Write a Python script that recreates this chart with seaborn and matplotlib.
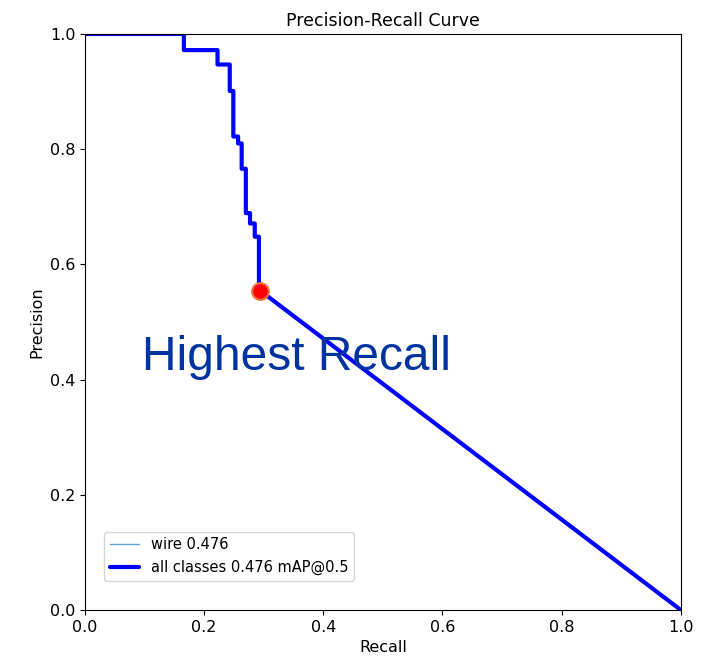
import seaborn as sns
import matplotlib.pyplot as plt
import pandas as pd

# PR curve vertices
recall = [0.0, 0.166, 0.166, 0.2225, 0.2225, 0.243, 0.243, 0.249, 0.249, 0.257, 0.257,
          0.263, 0.263, 0.270, 0.270, 0.277, 0.277, 0.285, 0.285, 0.292, 0.292, 1.0]
precision = [1.0, 1.0, 0.972, 0.972, 0.947, 0.947, 0.901, 0.901, 0.822, 0.822, 0.810,
             0.810, 0.766, 0.766, 0.689, 0.689, 0.671, 0.671, 0.648, 0.648, 0.556, 0.0]
best_recall = 0.293
best_precision = 0.554

df = pd.DataFrame({'Recall': recall, 'Precision': precision})

sns.set_style('ticks', {'text.color': 'black', 'axes.labelcolor': 'black',
                        'xtick.color': 'black', 'ytick.color': 'black',
                        'axes.edgecolor': 'black'})
plt.rcParams['font.family'] = ['DejaVu Sans']

fig = plt.figure(figsize=(7.04, 6.61), dpi=100)
ax = fig.add_axes([0.1207, 0.0772, 0.8463, 0.8714])

sns.lineplot(data=df, x='Recall', y='Precision', sort=False, estimator=None,
             linewidth=1, color='#5DA5DA', label='wire 0.476', ax=ax)
sns.lineplot(data=df, x='Recall', y='Precision', sort=False, estimator=None,
             linewidth=3, color='blue', label='all classes 0.476 mAP@0.5', ax=ax)
ax.plot([best_recall], [best_precision], 'o', markersize=12,
        markerfacecolor='red', markeredgecolor='#E8743B', markeredgewidth=1.5, zorder=5)

ax.set_xlim(0, 1)
ax.set_ylim(0, 1)
ax.set_xlabel('Recall', fontsize=11.5)
ax.set_ylabel('Precision', fontsize=11.5)
ax.set_title('Precision-Recall Curve', fontsize=12.5)
ax.tick_params(labelsize=11.5)
ax.legend(loc='lower left', bbox_to_anchor=(0.02, 0.038), fontsize=10.5)

ax.text(0.095, 0.416, 'Highest Recall', fontsize=34.5, color='#0033A0',
        family=['Liberation Sans'], transform=ax.transAxes)

fig.savefig('out.png', dpi=100)
